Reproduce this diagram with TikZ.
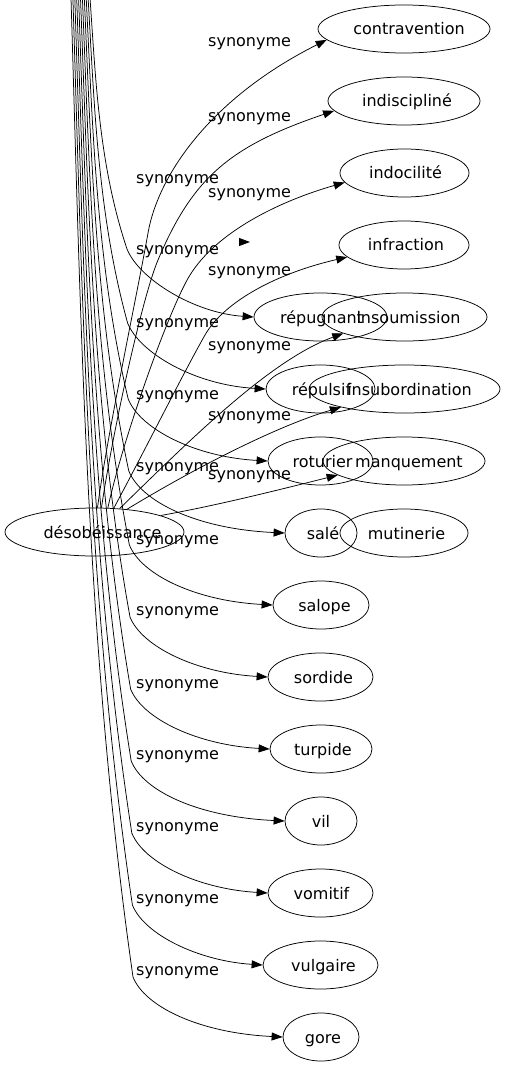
\documentclass[tikz,border=0pt]{standalone}
\usepackage{fontspec}
\setmainfont{DejaVu Sans}
\usetikzlibrary{shapes.geometric,arrows.meta}
\newcommand\txtsh[2]{\makebox[0pt]{\hspace*{#1pt}#2}}
\begin{document}
\begin{tikzpicture}[x=1pt,y=-1pt,
  every node/.style={font=\fontsize{16}{19}\selectfont},
  word/.style={ellipse, draw, line width=0.75pt, inner sep=0pt, minimum height=48pt, text height=12pt, text depth=0pt},
  lab/.style={anchor=mid west, inner sep=0pt},
  edge/.style={draw, line width=0.75pt, -{Triangle[length=11pt,width=8pt]}}
]
\useasboundingbox (0,0) rectangle (505,1067);
\clip (0,0) rectangle (505,1067);

% nodes
\node[word, minimum width=179pt] (deso) at (94.5,532) {\txtsh{16}{désobéissance}};
\node[word, minimum width=172pt] (contra) at (404,29) {\txtsh{10}{contravention}};
\node[word, minimum width=152pt] (indis) at (404,101) {\txtsh{6}{indiscipliné}};
\node[word, minimum width=129pt] (indoc) at (404.5,173) {\txtsh{2}{indocilité}};
\node[word, minimum width=130pt] (infr) at (404,245) {\txtsh{4}{infraction}};
\node[word, minimum width=165pt] (insou) at (404.5,317) {\txtsh{8}{insoumission}};
\node[word, minimum width=191pt] (insub) at (404.5,389) {\txtsh{10}{insubordination}};
\node[word, minimum width=162pt] (manq) at (404,461) {\txtsh{10}{manquement}};
\node[word, minimum width=128pt] (mutin) at (404,533) {\txtsh{5}{mutinerie}};
\node[word, minimum width=133pt] (repug) at (320.5,317) {\txtsh{2}{répugnant}};
\node[word, minimum width=109pt] (repul) at (320.5,389) {\txtsh{2}{répulsif}};
\node[word, minimum width=105pt] (rotur) at (320.5,461) {\txtsh{4}{roturier}};
\node[word, minimum width=72pt] (sale) at (321,533) {\txtsh{4}{salé}};
\node[word, minimum width=96pt] (salope) at (321,605) {\txtsh{7}{salope}};
\node[word, minimum width=105pt] (sordide) at (320.5,677) {\txtsh{6}{sordide}};
\node[word, minimum width=102pt] (turpide) at (321,749) {\txtsh{4}{turpide}};
\node[word, minimum width=72pt] (vil) at (321,821) {\txtsh{0}{vil}};
\node[word, minimum width=105pt] (vomitif) at (320.5,893) {\txtsh{2}{vomitif}};
\node[word, minimum width=115pt] (vulgaire) at (320.5,965) {\txtsh{6}{vulgaire}};
\node[word, minimum width=76pt] (gore) at (321,1037) {\txtsh{4}{gore}};

% edges to the right column
\draw[edge] (deso.83) .. controls (108,430) and (138,290) .. (148,233)
  .. controls (158.4,174) and (211.5,97.7) .. (contra.188);
\draw[edge] (deso.74) .. controls (113,430) and (142.4,296.8) .. (158,260)
  .. controls (193,177) and (230.5,146) .. (indis.188);
\draw[edge] (deso.61) .. controls (122.3,440.7) and (169,309) .. (190,275)
  .. controls (216.4,232.5) and (277.8,201.6) .. (indoc.189);
\draw[edge] (deso.51) .. controls (145,450) and (185,370) .. (205,335)
  .. controls (222,305) and (270,275) .. (infr.192);
\draw[edge] (deso.43) .. controls (190,440) and (270,360) .. (insou.195);
\draw[edge] (deso.35) .. controls (200,465) and (280,425) .. (insub.196);
\draw[edge] (deso.14) .. controls (220,505) and (290,487) .. (manq.192);

% edges coming down from above the picture
\foreach \k/\n/\yt/\off in {0/gore/1037/60, 1/vulgaire/965/60, 2/vomitif/893/60, 3/vil/821/60, 4/turpide/749/60, 5/sordide/677/60, 6/salope/605/60, 7/sale/533/62, 8/rotur/461/62, 9/repul/389/66, 10/repug/317/68} {
  \pgfmathsetmacro\xo{71+1.9*\k}
  \pgfmathsetmacro\xb{133-0.6*\k}
  \pgfmathsetmacro\yb{\yt-\off}
  \pgfmathsetmacro\ca{\xo+0.16*(\xb-\xo)}
  \pgfmathsetmacro\cb{\xo+0.25*(\xb-\xo)}
  \coordinate (top\k) at (\xo,-2);
  \draw[edge] (top\k) .. controls (\ca,\yb/3) and (\cb,2*\yb/3) .. (\xb,\yb) .. controls (\xb+12,\yb+30) and (\xb+67,\yt-4) .. (\n.west);
}

% lone arrowhead
\coordinate (mutA) at (239,242);
\coordinate (mutB) at (250,242);
\draw[edge] (mutA) -- (mutB);

% labels
\foreach \y [count=\i] in {44,119,195,273,348,418,477}
  \node[lab] (rl\i) at (208,\y) {synonyme};
\foreach \y [count=\i] in {181,252,325,397,469,542,613,686,757,829,901,973}
  \node[lab] (ll\i) at (136,\y) {synonyme};
\end{tikzpicture}
\end{document}
